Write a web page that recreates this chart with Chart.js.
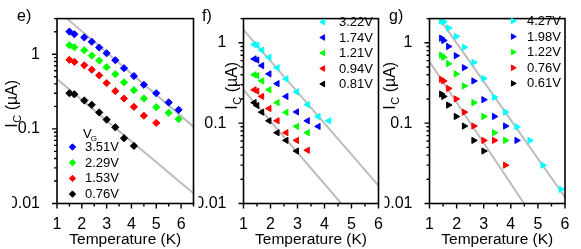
<!DOCTYPE html>
<html>
<head>
<meta charset="utf-8">
<script src="https://cdn.jsdelivr.net/npm/chart.js@4.4.1/dist/chart.umd.min.js"></script>
<style>
  html, body { margin: 0; padding: 0; background: #fff; }
  #wrap { position: relative; width: 581px; height: 249px; }
  canvas { position: absolute; left: 0; top: 0; }
</style>
</head>
<body>
<div id="wrap">
  <canvas id="chartE" width="581" height="249"></canvas>
  <canvas id="chartF" width="581" height="249"></canvas>
  <canvas id="chartG" width="581" height="249"></canvas>
</div>
<script>
// ---- panel e) ----
const tempE = [1.5, 1.7, 2.1, 2.4, 2.7, 3.0, 3.35, 3.7, 4.1, 4.5, 5.0, 5.5, 5.9];
const icE351 = [2.01, 1.85, 1.68, 1.47, 1.23, 1.03, 0.83, 0.65, 0.51, 0.39, 0.30, 0.226, 0.18];
const icE229 = [1.32, 1.24, 1.13, 0.96, 0.82, 0.67, 0.54, 0.42, 0.33, 0.255, 0.195, 0.164, 0.135];
const icE153 = [0.84, 0.79, 0.71, 0.62, 0.52, 0.41, 0.32, 0.255, 0.197, 0.15, 0.12];
const icE076 = [0.30, 0.29, 0.24, 0.21, 0.166, 0.133, 0.105, 0.075, 0.059];
const labelsE = ['3.51V', '2.29V', '1.53V', '0.76V'];
const fitUpperE = [[1.4, 3.0], [6.5, 0.107]];
const fitLowerE = [[1.0, 0.464], [6.5, 0.0137]];

// ---- panel f) ----
const tempF = [1.4, 1.5, 1.68, 1.95, 2.25, 2.58, 2.97, 3.37, 3.77, 4.16];
const icF322 = [0.95, 0.93, 0.81, 0.66, 0.49, 0.355, 0.245, 0.17, 0.121, 0.107];
const icF174 = [0.63, 0.61, 0.52, 0.41, 0.31, 0.215, 0.138, 0.107, 0.091];
const icF121 = [0.40, 0.39, 0.335, 0.26, 0.18, 0.136, 0.091, 0.076];
const icF094 = [0.26, 0.25, 0.215, 0.152, 0.107, 0.076, 0.061, 0.046];
const icF081 = [0.18, 0.166, 0.137, 0.107, 0.076, 0.061, 0.045];
const labelsF = ['3.22V', '1.74V', '1.21V', '0.94V', '0.81V'];
const fitUpperF = [[1.0, 1.45], [6.0, 0.0167]];
const fitLowerF = [[1.0, 0.26], [4.62, 0.01]];

// ---- panel g) ----
const tempG = [1.44, 1.52, 1.70, 1.98, 2.28, 2.63, 3.0, 3.39, 3.8, 4.22, 4.7, 5.18, 5.85];
const icG427 = [1.87, 1.82, 1.53, 1.2, 0.88, 0.57, 0.36, 0.21, 0.137, 0.09, 0.061, 0.030, 0.015];
const icG198 = [1.14, 1.07, 0.90, 0.69, 0.49, 0.335, 0.196, 0.121, 0.092, 0.061];
const icG122 = [0.70, 0.66, 0.55, 0.41, 0.29, 0.18, 0.121, 0.076, 0.061];
const icG076 = [0.35, 0.335, 0.27, 0.20, 0.137, 0.092, 0.061, 0.061, 0.030];
const icG061 = [0.23, 0.215, 0.168, 0.121, 0.092, 0.061, 0.045];
const labelsG = ['4.27V', '1.98V', '1.22V', '0.76V', '0.61V'];
const fitUpperG = [[1.37, 2.0], [6.0, 0.012]];
const fitLowerG = [[1.0, 0.58], [4.49, 0.01]];

const xTickLabels = [1, 2, 3, 4, 5, 6];
const yTickLabels = [0.01, 0.1, 1];

const FONT = "'Liberation Sans', Arial, Helvetica, sans-serif";
Chart.defaults.font.family = FONT;
Chart.defaults.color = '#000';

const YW = 45;  // fixed y axis box width
const W = 581, H = 249;

function pts(temps, ics) {
  return ics.map((v, i) => ({ x: temps[i], y: v }));
}

// frame, ticks, y title, panel letter and legend
const decor = {
  id: 'decor',
  afterDraw(chart, args, o) {
    const ctx = chart.ctx;
    const { left, right, top, bottom } = chart.chartArea;
    const xs = chart.scales.x, ys = chart.scales.y;
    ctx.save();
    ctx.strokeStyle = '#000';
    ctx.lineWidth = 1.6;
    ctx.strokeRect(left, top, right - left, bottom - top);
    ctx.lineWidth = 1.4;
    ctx.beginPath();
    // y ticks (log, outward)
    for (const dec of yTickLabels) {
      for (let m = 1; m <= 9; m++) {
        const v = dec * m;
        if (v > ys.max * 1.0001) break;
        const py = ys.getPixelForValue(v);
        const len = m === 1 ? 5 : 3;
        ctx.moveTo(left - len, py); ctx.lineTo(left, py);
      }
    }
    // x ticks (outward), major at integers, minor at halves
    for (let v = xs.min; v <= xs.max + 0.001; v += 0.5) {
      const px = xs.getPixelForValue(v);
      const len = Number.isInteger(v) ? 5 : 3;
      ctx.moveTo(px, bottom); ctx.lineTo(px, bottom + len);
    }
    ctx.stroke();

    // y title I_C (µA), rotated
    ctx.fillStyle = '#000';
    ctx.translate(o.titleX, o.titleY);
    ctx.rotate(-Math.PI / 2);
    ctx.textBaseline = 'alphabetic';
    ctx.textAlign = 'left';
    const big = '16px ' + FONT, small = '11px ' + FONT;
    ctx.font = big; const wI = ctx.measureText('I').width;
    const wRest = ctx.measureText(' (\u00b5A)').width;
    ctx.font = small; const wC = ctx.measureText('C').width;
    let x0 = -(wI + wC + wRest) / 2;
    ctx.font = big; ctx.fillText('I', x0, 0);
    ctx.font = small; ctx.fillText('C', x0 + wI + 0.5, 4);
    ctx.font = big; ctx.fillText(' (\u00b5A)', x0 + wI + wC + 0.5, 0);
    ctx.setTransform(1, 0, 0, 1, 0, 0);

    // panel letter
    ctx.font = '16px ' + FONT;
    ctx.fillText(o.letter, o.letterX, 21);

    // legend
    const lg = o.legend;
    if (lg.header) {
      ctx.font = '13px ' + FONT;
      ctx.fillText('V', lg.header[0], lg.header[1]);
      const wV = ctx.measureText('V').width;
      ctx.font = '8px ' + FONT;
      ctx.fillText('G', lg.header[0] + wV - 1, lg.header[1] + 3);
    }
    ctx.font = '13px ' + FONT;
    ctx.textBaseline = 'middle';
    chart.data.datasets.forEach((ds, i) => {
      if (!ds.legendText) return;
      const y = lg.y0 + i * lg.dy;
      ctx.fillStyle = ds.backgroundColor;
      ctx.strokeStyle = ds.borderColor;
      ctx.lineWidth = 1;
      Chart.helpers.drawPoint(ctx, { pointStyle: ds.pointStyle, rotation: ds.rotation, radius: 3.2, borderWidth: 1 }, lg.mx, y);
      ctx.fillStyle = '#000';
      ctx.fillText(ds.legendText, lg.tx, y + 0.5);
    });
    ctx.restore();
  }
};

function buildPanel(id, p) {
  const datasets = p.series.map((s, i) => ({
    label: p.labels[i],
    legendText: p.labels[i],
    data: pts(p.temps, s),
    backgroundColor: p.colors[i],
    borderColor: p.colors[i],
    borderWidth: 1,
    pointStyle: p.pointStyle,
    rotation: p.rotation,
    pointRadius: p.radius,
    showLine: false
  }));
  p.fits.forEach(f => datasets.push({
    type: 'line',
    data: f.map(q => ({ x: q[0], y: q[1] })),
    borderColor: '#bcbcbc',
    borderWidth: 2,
    pointRadius: 0,
    fill: false
  }));
  const a = p.area;
  const XH = H - a.bottom;
  return new Chart(document.getElementById(id), {
    type: 'scatter',
    data: { datasets: datasets },
    options: {
      responsive: false,
      animation: false,
      events: [],
      layout: { padding: { left: a.left - YW, top: a.top, right: W - a.right, bottom: 0 } },
      plugins: {
        legend: { display: false },
        tooltip: { enabled: false },
        decor: p.decor
      },
      scales: {
        x: {
          type: 'linear', min: 1, max: p.xMax,
          grid: { display: false }, border: { display: false },
          ticks: { padding: 3, font: { size: 16 }, color: '#000', autoSkip: false, maxRotation: 0, callback: v => String(v) },
          afterBuildTicks: s => { s.ticks = xTickLabels.filter(v => v <= p.xMax).map(v => ({ value: v })); },
          afterFit: s => { s.height = XH; },
          title: { display: true, text: 'Temperature (K)', color: '#000', font: { size: 15.5 }, padding: { top: 0, bottom: 0 } }
        },
        y: {
          type: 'logarithmic', min: 0.01, max: p.yMax,
          grid: { display: false }, border: { display: false },
          ticks: { padding: 9, font: { size: 16 }, color: '#000', autoSkip: false, callback: v => String(v) },
          afterBuildTicks: s => { s.ticks = yTickLabels.map(v => ({ value: v })); },
          afterFit: s => { s.width = YW; }
        }
      }
    },
    plugins: [decor]
  });
}

buildPanel('chartE', {
  temps: tempE,
  series: [icE351, icE229, icE153, icE076],
  labels: labelsE,
  colors: ['#0000ff', '#00ff00', '#ff0000', '#000000'],
  fits: [fitUpperE, fitLowerE],
  pointStyle: 'rectRot', rotation: 0, radius: 3.6,
  xMax: 6.5, yMax: 3,
  area: { left: 57, right: 193.5, top: 12.5, bottom: 203.5 },
  decor: {
    titleX: 17, titleY: 104, letter: 'e)', letterX: 17,
    legend: { header: [83, 138], mx: 72.5, tx: 85, y0: 147, dy: 15.7 }
  }
});

buildPanel('chartF', {
  temps: tempF,
  series: [icF322, icF174, icF121, icF094, icF081],
  labels: labelsF,
  colors: ['#00ffff', '#0000ff', '#00ff00', '#ff0000', '#000000'],
  fits: [fitUpperF, fitLowerF],
  pointStyle: 'triangle', rotation: -90, radius: 3.6,
  xMax: 6, yMax: 2,
  area: { left: 243.5, right: 378.5, top: 12.5, bottom: 203.5 },
  decor: {
    titleX: 237, titleY: 86, letter: 'f)', letterX: 202,
    legend: { header: null, mx: 323, tx: 339, y0: 22, dy: 15.5 }
  }
});

buildPanel('chartG', {
  temps: tempG,
  series: [icG427, icG198, icG122, icG076, icG061],
  labels: labelsG,
  colors: ['#00ffff', '#0000ff', '#00ff00', '#ff0000', '#000000'],
  fits: [fitUpperG, fitLowerG],
  pointStyle: 'triangle', rotation: 90, radius: 3.6,
  xMax: 6, yMax: 2,
  area: { left: 429.5, right: 565, top: 12.5, bottom: 203.5 },
  decor: {
    titleX: 395, titleY: 86, letter: 'g)', letterX: 389,
    legend: { header: null, mx: 513, tx: 527, y0: 21, dy: 15.6 }
  }
});
</script>
</body>
</html>
